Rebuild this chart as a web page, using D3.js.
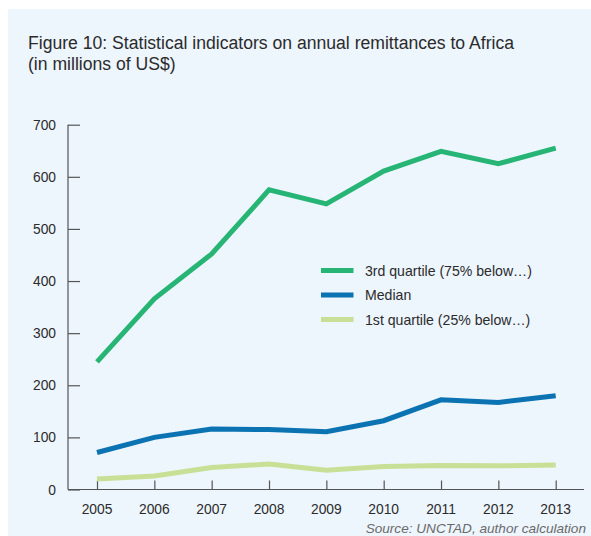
<!DOCTYPE html>
<html><head><meta charset="utf-8">
<script src="https://cdn.jsdelivr.net/npm/d3@7/dist/d3.min.js"></script>
<style>body{margin:0;background:#fff;}svg{display:block;font-family:"Liberation Sans",Arial,sans-serif;}</style>
</head><body>
<script>
const years = [2005,2006,2007,2008,2009,2010,2011,2012,2013];
const q3 = [245,366,452,575,548,611,649,625,655];
const median = [71,100,116,115,111,132,172,167,180];
const q1 = [20,26,42,49,37,44,46,45.5,47];
const yTicks = [0,100,200,300,400,500,600,700];
const seriesNames = ["3rd quartile (75% below\u2026)","Median","1st quartile (25% below\u2026)"];
const seriesColors = ["#26b574","#0b73b2","#c7e096"];

const W=591,H=536;
const svg=d3.select("body").append("svg").attr("width",W).attr("height",H);
svg.append("rect").attr("x",8).attr("y",9).attr("width",W-8).attr("height",H-9).attr("fill","#edf5fd");

svg.append("text").attr("x",28).attr("y",48.5).attr("font-size",17.6).attr("fill","#2b2b2b")
  .text("Figure 10: Statistical indicators on annual remittances to Africa");
svg.append("text").attr("x",28).attr("y",70).attr("font-size",17.6).attr("fill","#2b2b2b")
  .text("(in millions of US$)");

const x0=68,x1=584;
const x=d3.scalePoint().domain(years).range([97,555.7]);
const y=d3.scaleLinear().domain([0,700]).range([489.5,124.7]);

const axisCol="#555";
// y axis
const ya=svg.append("g").attr("transform",`translate(${x0},0)`)
  .call(d3.axisRight(y).tickValues(yTicks).tickSize(12).tickFormat(""));
ya.select(".domain").remove();
ya.selectAll("line").attr("stroke",axisCol).attr("stroke-width",1.2);
svg.append("line").attr("x1",x0).attr("x2",x0).attr("y1",y(700)).attr("y2",y(0)).attr("stroke",axisCol).attr("stroke-width",1.2);
svg.selectAll(".ylab").data(yTicks).join("text").attr("x",56).attr("y",d=>y(d)+5)
  .attr("text-anchor","end").attr("font-size",13.8).attr("fill","#2b2b2b").text(d=>d);

// x axis
const xa=svg.append("g").attr("transform",`translate(0,${y(0)})`)
  .call(d3.axisTop(x).tickSize(9).tickFormat(""));
xa.select(".domain").remove();
xa.selectAll("line").attr("stroke",axisCol).attr("stroke-width",1.2);
svg.append("line").attr("x1",x0).attr("x2",x1).attr("y1",y(0)).attr("y2",y(0)).attr("stroke",axisCol).attr("stroke-width",1.2);
svg.selectAll(".xlab").data(years).join("text").attr("x",d=>x(d)).attr("y",514)
  .attr("text-anchor","middle").attr("font-size",13.8).attr("fill","#2b2b2b").text(d=>d);

const line=d3.line().x((d,i)=>x(years[i])).y(d=>y(d));
[q1,median,q3].forEach((s,k)=>{
  const c=seriesColors[2-k];
  svg.append("path").attr("d",line(s)).attr("fill","none").attr("stroke",c).attr("stroke-width",5);
});

// legend
seriesNames.forEach((n,i)=>{
  const yy=270.5+i*24.5;
  svg.append("line").attr("x1",321).attr("x2",353.5).attr("y1",yy).attr("y2",yy)
    .attr("stroke",seriesColors[i]).attr("stroke-width",5);
  svg.append("text").attr("x",365).attr("y",yy+5).attr("font-size",14.1).attr("fill","#2b2b2b").text(n);
});

svg.append("text").attr("x",586).attr("y",532.5).attr("text-anchor","end").attr("font-size",13.6)
  .attr("font-style","italic").attr("fill","#6a6a6a").text("Source: UNCTAD, author calculation");
</script>
</body></html>
